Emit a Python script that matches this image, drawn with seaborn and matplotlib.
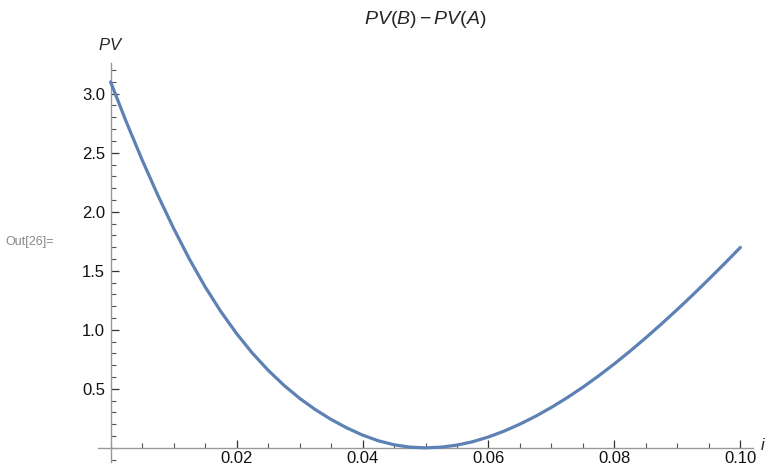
import numpy as np
import pandas as pd
import matplotlib
matplotlib.use("Agg")
import matplotlib.pyplot as plt
from matplotlib.ticker import MultipleLocator, FixedLocator
import seaborn as sns

# Difference in present value between projects B and A, by interest rate i
rates = [0.0000, 0.0025, 0.0050, 0.0075, 0.0100, 0.0125, 0.0150, 0.0175, 0.0200, 0.0225,
         0.0250, 0.0275, 0.0300, 0.0325, 0.0350, 0.0375, 0.0400, 0.0425, 0.0450, 0.0475,
         0.0500, 0.0525, 0.0550, 0.0575, 0.0600, 0.0625, 0.0650, 0.0675, 0.0700, 0.0725,
         0.0750, 0.0775, 0.0800, 0.0825, 0.0850, 0.0875, 0.0900, 0.0925, 0.0950, 0.0975,
         0.1000]
pv_diff = [3.100, 2.760, 2.440, 2.140, 1.860, 1.600, 1.365, 1.155, 0.968, 0.803,
           0.658, 0.531, 0.420, 0.324, 0.241, 0.169, 0.108, 0.060, 0.026, 0.006,
           0.000, 0.006, 0.023, 0.052, 0.092, 0.142, 0.201, 0.268, 0.343, 0.425,
           0.514, 0.610, 0.712, 0.820, 0.933, 1.051, 1.173, 1.299, 1.429, 1.562,
           1.698]

x_major = [0.02, 0.04, 0.06, 0.08, 0.10]
x_labels = ["0.02", "0.04", "0.06", "0.08", "0.10"]
y_major = [0.5, 1.0, 1.5, 2.0, 2.5, 3.0]
y_labels = ["0.5", "1.0", "1.5", "2.0", "2.5", "3.0"]

df = pd.DataFrame({"i": rates, "PV": pv_diff})

sns.set_style("white")
plt.rcParams["font.family"] = ["Liberation Sans", "DejaVu Sans"]
plt.rcParams["mathtext.fontset"] = "custom"
plt.rcParams["mathtext.it"] = "Liberation Sans:italic"
plt.rcParams["mathtext.rm"] = "Liberation Sans"

W, H = 773, 466
fig = plt.figure(figsize=(W / 100, H / 100), dpi=100)
ax = fig.add_axes([98 / W, (H - 462) / H, (753 - 98) / W, (462 - 63) / H])

sns.lineplot(data=df, x="i", y="PV", ax=ax, color="#5E81B5", linewidth=2.3, zorder=3)

ax.set_xlim(-0.002, 0.102)
ax.set_ylim(-0.12, 3.26)

for side in ("top", "right"):
    ax.spines[side].set_visible(False)
ax.spines["left"].set_position(("data", 0))
ax.spines["bottom"].set_position(("data", 0))
for side in ("left", "bottom"):
    ax.spines[side].set_color("#999999")
    ax.spines[side].set_linewidth(1.0)

ax.xaxis.set_major_locator(FixedLocator(x_major))
ax.set_xticklabels(x_labels)
ax.xaxis.set_minor_locator(MultipleLocator(0.005))
ax.yaxis.set_major_locator(FixedLocator(y_major))
ax.set_yticklabels(y_labels)
ax.yaxis.set_minor_locator(MultipleLocator(0.1))

ax.tick_params(axis="both", which="both", bottom=True, left=True, top=False, right=False)
ax.tick_params(axis="both", which="major", direction="in", length=6, width=0.9,
               color="#333333", labelsize=12, labelcolor="#111111", pad=4)
ax.tick_params(axis="x", which="major", pad=2)
ax.tick_params(axis="both", which="minor", direction="in", length=3.5, width=0.8,
               color="#555555")
ax.set_xlabel("")
ax.set_ylabel("")

# Axis names and plot label
fig.text(111 / W, 1 - 45 / H, r"$PV$", ha="center", va="center", fontsize=12)
fig.text(763 / W, 1 - 445 / H, r"$i$", ha="center", va="center", fontsize=12)
fig.text(425 / W, 1 - 20 / H, r"$PV(B) - PV(A)$", ha="center", va="center", fontsize=14)
fig.text(5 / W, 1 - 242 / H, "Out[26]=", ha="left", va="center", fontsize=9, color="#888888")

fig.savefig("out.png", dpi=100)
